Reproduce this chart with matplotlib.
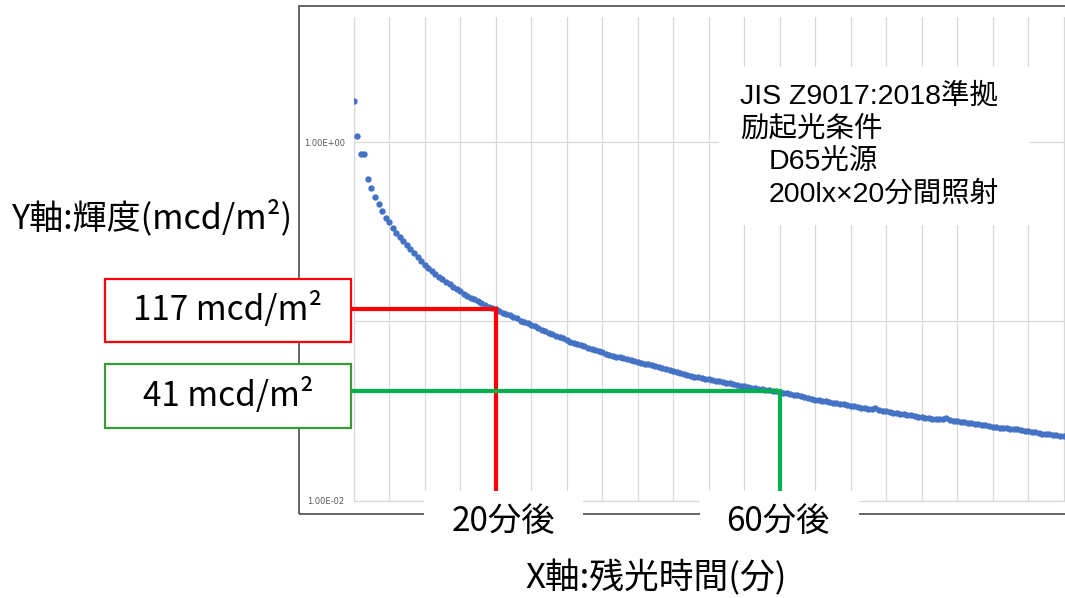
import numpy as np
import matplotlib
matplotlib.use("Agg")
import matplotlib.pyplot as plt
from matplotlib.patches import Rectangle

# 残光輝度 (cd/m2) 0.5分ごと、0〜100分
luminance = [
    1.70, 1.09, 0.864, 0.857, 0.622, 0.554, 0.495, 0.453, 0.414, 0.380,
    0.359, 0.331, 0.313, 0.295, 0.281, 0.266, 0.253, 0.240, 0.228, 0.217,
    0.207, 0.199, 0.192, 0.185, 0.178, 0.172, 0.166, 0.161, 0.156, 0.151,
    0.147, 0.142, 0.139, 0.136, 0.133, 0.130, 0.127, 0.124, 0.121, 0.119,
    0.117, 0.114, 0.112, 0.110, 0.108, 0.106, 0.104, 0.101, 0.0995, 0.0976,
    0.0956, 0.0938, 0.0920, 0.0901, 0.0884, 0.0867, 0.0851, 0.0835, 0.0819, 0.0804,
    0.0788, 0.0771, 0.0760, 0.0748, 0.0737, 0.0726, 0.0715, 0.0704, 0.0693, 0.0683,
    0.0672, 0.0662, 0.0652, 0.0645, 0.0637, 0.0630, 0.0622, 0.0615, 0.0608, 0.0601,
    0.0595, 0.0589, 0.0582, 0.0576, 0.0570, 0.0564, 0.0558, 0.0550, 0.0543, 0.0536,
    0.0530, 0.0523, 0.0517, 0.0511, 0.0505, 0.0499, 0.0493, 0.0489, 0.0485, 0.0480,
    0.0476, 0.0472, 0.0467, 0.0463, 0.0459, 0.0455, 0.0451, 0.0447, 0.0443, 0.0439,
    0.0435, 0.0431, 0.0427, 0.0424, 0.0420, 0.0418, 0.0415, 0.0413, 0.0410, 0.0407,
    0.0405, 0.0401, 0.0398, 0.0394, 0.0390, 0.0387, 0.0383, 0.0379, 0.0375, 0.0371,
    0.0367, 0.0364, 0.0361, 0.0358, 0.0355, 0.0352, 0.0350, 0.0347, 0.0345, 0.0342,
    0.0339, 0.0337, 0.0334, 0.0331, 0.0329, 0.0326, 0.0325, 0.0329, 0.0321, 0.0317,
    0.0315, 0.0312, 0.0310, 0.0308, 0.0306, 0.0304, 0.0302, 0.0300, 0.0298, 0.0295,
    0.0293, 0.0291, 0.0289, 0.0287, 0.0286, 0.0284, 0.0287, 0.0290, 0.0281, 0.0279,
    0.0277, 0.0276, 0.0274, 0.0272, 0.0271, 0.0269, 0.0267, 0.0265, 0.0263, 0.0261,
    0.0259, 0.0258, 0.0256, 0.0255, 0.0254, 0.0252, 0.0251, 0.0250, 0.0248, 0.0246,
    0.0245, 0.0243, 0.0241, 0.0239, 0.0237, 0.0236, 0.0235, 0.0234, 0.0233, 0.0231,
    0.0230,
]
step_min = 0.5
time_min = np.arange(len(luminance)) * step_min

# 注目点 (分, cd/m2)
mark_time = [20, 60]
mark_lum = [0.117, 0.041]
mark_text = ["117 mcd/m²", "41 mcd/m²"]
time_text = ["20分後", "60分後"]

# 1.00E-01 は値ラベルの箱に隠れている
yticks = [0.01, 0.1, 1.0]
ytick_labels = ["1.00E-02", "", "1.00E+00"]

note_lines = ["JIS Z9017:2018準拠", "励起光条件", "D65光源", "200lx×20分間照射"]

W, H = 1065, 598
CJK = ["Noto Sans CJK JP", "DejaVu Sans"]
LAT = ["Liberation Sans", "Noto Sans CJK JP"]


def fx(x):
    return x / W


def fy(y):
    return 1 - y / H


def box(x0, y0, x1, y1, **kw):
    r = Rectangle((fx(x0), fy(y1)), (x1 - x0) / W, (y1 - y0) / H,
                  transform=fig.transFigure, **kw)
    fig.add_artist(r)
    return r


fig = plt.figure(figsize=(W / 100, H / 100), dpi=100)
ax = fig.add_axes([fx(353.7), fy(500.7), 1 - fx(353.7), (500.7 - 17) / H])

ax.plot(time_min, luminance, "o", color="#4472C4", markersize=4.6,
        markeredgewidth=0, zorder=3)
ax.set_yscale("log")
ax.set_xlim(0, 100.2)
ax.set_ylim(0.01, 5.0)

ax.set_xticks(np.arange(0, 101, 5))
ax.set_xticklabels([])
ax.set_yticks(yticks)
ax.set_yticklabels(ytick_labels)
ax.yaxis.set_minor_locator(matplotlib.ticker.NullLocator())
ax.tick_params(length=0, pad=6.5, labelsize=6, labelcolor="#595959")
ax.grid(True, color="#d9d9d9", linewidth=0.9)
for s in ["top", "right"]:
    ax.spines[s].set_visible(False)
for s in ["left", "bottom"]:
    ax.spines[s].set_color("#d9d9d9")
    ax.spines[s].set_linewidth(0.9)

# 読み取り線
line_colors = ["#ff0000", "#00b050"]
for t, v, c in zip(mark_time, mark_lum, line_colors):
    ax.plot([-0.5, t, t], [v, v, 0.01], color=c, linewidth=3,
            clip_on=False, solid_joinstyle="miter", zorder=4)

# 外枠
box(299, 6, 1075, 513.5, fill=False, edgecolor="#595959", linewidth=1.3, zorder=1)

# 注記ボックス
box(719, 67, 1030, 225, facecolor="white", edgecolor="none", zorder=2)
fig.text(fx(740), fy(97), note_lines[0], fontsize=20.5, family=LAT,
         ha="left", va="center", zorder=3)
fig.text(fx(740), fy(129), note_lines[1], fontsize=20.5, family=CJK,
         ha="left", va="center", zorder=3)
fig.text(fx(769), fy(162), note_lines[2], fontsize=20.5, family=LAT,
         ha="left", va="center", zorder=3)
fig.text(fx(769), fy(195), note_lines[3], fontsize=20.5, family=LAT,
         ha="left", va="center", zorder=3)

# 値ラベル
box_edges = ["#ff0000", "#3a9a3a"]
box_rows = [(279.3, 341.7), (364.3, 427.7)]
for (y0, y1), txt, ec in zip(box_rows, mark_text, box_edges):
    box(105.3, y0, 350.7, y1, facecolor="white", edgecolor=ec, linewidth=1.6, zorder=2)
    fig.text(fx(228), fy((y0 + y1) / 2), txt, fontsize=24, family=CJK,
             ha="center", va="center", zorder=3)

# 時間ラベル
time_boxes = [(424, 583, 503), (700, 859, 778)]
for (x0, x1, xc), txt in zip(time_boxes, time_text):
    box(x0, 491, x1, 550, facecolor="white", edgecolor="none", zorder=2)
    fig.text(fx(xc), fy(521), txt, fontsize=24, family=CJK,
             ha="center", va="center", zorder=3)

fig.text(fx(11.7), fy(218), "Y軸:輝度(mcd/m²)", fontsize=24.5, family=CJK,
         ha="left", va="center")
fig.text(fx(656), fy(578), "X軸:残光時間(分)", fontsize=25, family=CJK,
         ha="center", va="center")

fig.savefig("out.png", dpi=100)
